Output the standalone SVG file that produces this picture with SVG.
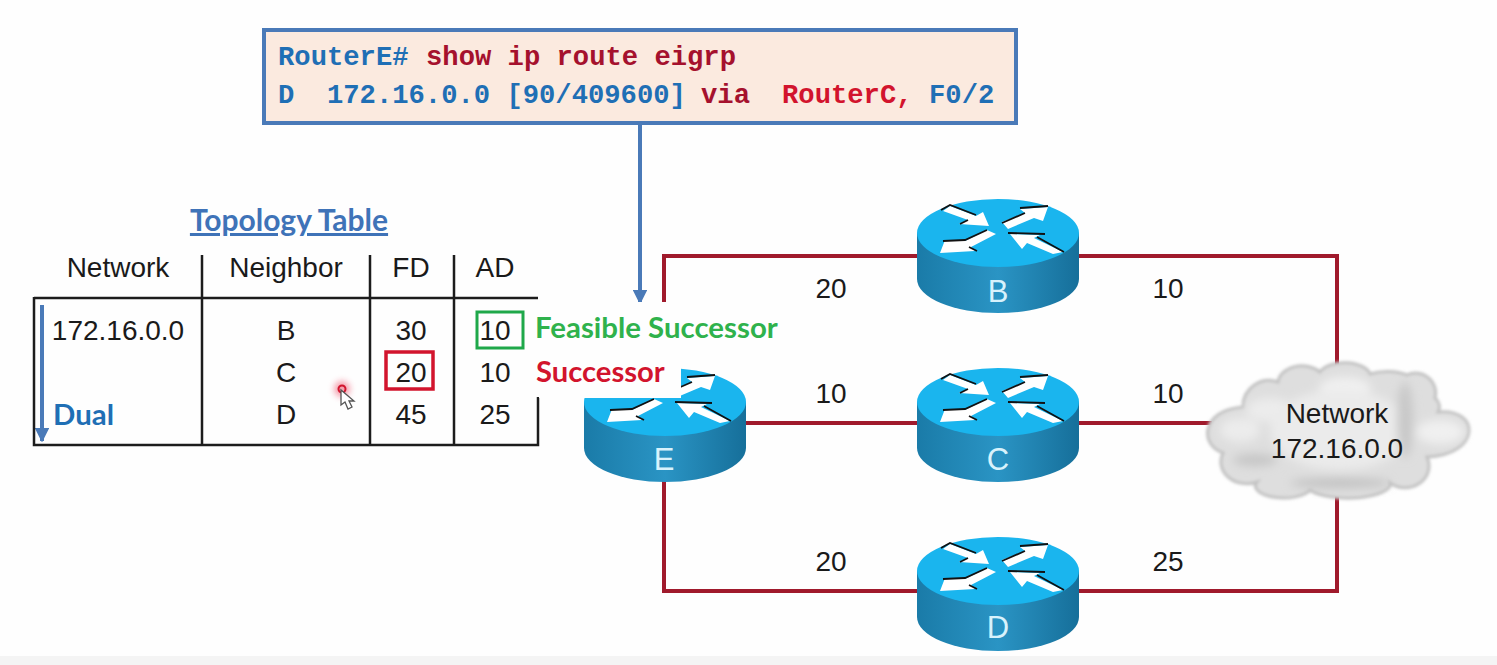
<svg xmlns="http://www.w3.org/2000/svg" width="1497" height="665" viewBox="0 0 1497 665">
<style>
.t{font-family:"Liberation Sans",Arial,sans-serif;font-size:28px;fill:#1a1a1a;text-anchor:middle}
.c{font-family:"Liberation Mono","Courier New",monospace;font-size:27.2px;font-weight:bold}
.b{fill:#1f6fb5}.r{fill:#a5112d}.v{fill:#d2142d}
.h{font-family:Lato,"Open Sans",sans-serif;font-weight:bold}
.link{fill:none;stroke:#a01a2c;stroke-width:4}
.grid{fill:none;stroke:#1c1c1c;stroke-width:2.5}
.flow{fill:none;stroke:#4a7ab8;stroke-width:4}
.rl{font-family:"Liberation Sans",Arial,sans-serif;font-size:31px;fill:#d8f2fc;text-anchor:middle}
.aw{fill:#fff}.ak{fill:none;stroke:#111;stroke-width:1.8}
</style>
<defs>
<linearGradient id="side" x1="0" x2="1" y1="0" y2="0">
<stop offset="0" stop-color="#1a7ba8"/><stop offset=".5" stop-color="#2a94c4"/><stop offset="1" stop-color="#166f9a"/>
</linearGradient>
<filter id="soft" x="-20%" y="-20%" width="140%" height="140%"><feGaussianBlur stdDeviation="5"/></filter>
<filter id="edge" x="-5%" y="-5%" width="110%" height="110%"><feGaussianBlur stdDeviation="1.6"/></filter>
<filter id="glow" x="-60%" y="-60%" width="220%" height="220%"><feGaussianBlur stdDeviation="3"/></filter>
<marker id="ah" viewBox="0 0 10 10" refX="9" refY="5" markerWidth="3.6" markerHeight="3.6" orient="auto"><path d="M0 0L10 5L0 10Z" fill="#4a7ab8"/></marker>
<g id="body">
<path d="M-81 0V46A81 34 0 0 0 81 46V0Z" fill="url(#side)"/>
<ellipse rx="81" ry="34" fill="#1ab5ee"/>
</g>
<g id="arrows">
<path class="aw" d="M-55-22L-48-27L-22-17L-15-21L-9-7L-39-9L-30-13Z"/>
<path class="ak" d="M-57-23L-48-28L-22-18M-38-9L-30-13"/>
<path class="aw" d="M4-11L27-20L22-24L50-26L45-12L36-15L10-4Z"/>
<path class="ak" d="M4-10L27-20M22-25L50-27"/>
<path class="aw" d="M-11-3L-2 1L-27 14L-23 18L-58 20L-53 7L-33 8Z"/>
<path class="ak" d="M-55 8L-33 7L-11-3M-29 14L-21 18"/>
<path class="aw" d="M12 1L42 2L36 5L65 19L55 21L29 10L24 16Z"/>
<path class="ak" d="M10 0L47 1M39 4L66 19"/>
</g>
</defs>
<rect width="1497" height="665" fill="#fefefe"/>
<rect y="656" width="1497" height="9" fill="#f4f4f4"/>

<g id="connectors">
<path class="link" d="M664 305V256H1337V366"/>
<path class="link" d="M745 423H1212"/>
<path class="link" d="M664 480V591H1337V496"/>
<path class="flow" d="M640 123V303" marker-end="url(#ah)"/>
<path class="flow" d="M42 305V441" marker-end="url(#ah)"/>
</g>

<g id="topology-table">
<text class="h" x="289" y="231" font-size="30" fill="#3f73b8" text-anchor="middle" text-decoration="underline">Topology Table</text>
<path class="grid" d="M34 298H538M34 297V445H538V397M202 255V445M370 255V445M454 255V445"/>
<text class="t" x="118" y="277">Network</text>
<text class="t" x="286" y="277">Neighbor</text>
<text class="t" x="411" y="277">FD</text>
<text class="t" x="495" y="277">AD</text>
<text class="t" x="118" y="340">172.16.0.0</text>
<text class="t" x="286" y="340">B</text>
<text class="t" x="286" y="382">C</text>
<text class="t" x="286" y="424">D</text>
<text class="t" x="411" y="340">30</text>
<text class="t" x="411" y="382">20</text>
<text class="t" x="411" y="424">45</text>
<text class="t" x="495" y="340">10</text>
<text class="t" x="495" y="382">10</text>
<text class="t" x="495" y="424">25</text>
<rect x="477" y="312" width="46" height="36" fill="none" stroke="#1fa84a" stroke-width="3"/>
<rect x="386" y="352" width="47" height="37" fill="none" stroke="#d2142d" stroke-width="3.5"/>
<text class="h b" x="53" y="425" font-size="29.4">Dual</text>
</g>

<g id="router-B"><use href="#body" x="998" y="233"/><use href="#arrows" x="998" y="233"/><text class="rl" x="998" y="302">B</text></g>
<g id="router-C"><use href="#body" x="998" y="402"/><use href="#arrows" x="998" y="402"/><text class="rl" x="998" y="470">C</text></g>
<g id="router-D"><use href="#body" x="998" y="571"/><use href="#arrows" x="998" y="571"/><text class="rl" x="998" y="638">D</text></g>
<g id="router-E"><use href="#body" x="665" y="402"/><use href="#arrows" x="665" y="402"/><text class="rl" x="664" y="470">E</text>
<rect x="539" y="302" width="142" height="96" fill="#fefefe"/></g>

<g id="route-labels">
<text class="h" x="535" y="338" font-size="29.4" fill="#2fb24c">Feasible Successor</text>
<text class="h v" x="536" y="382" font-size="29.2">Successor</text>
<text class="t" x="831" y="298">20</text>
<text class="t" x="1168" y="298">10</text>
<text class="t" x="831" y="403">10</text>
<text class="t" x="1168" y="403">10</text>
<text class="t" x="831" y="571">20</text>
<text class="t" x="1168" y="571">25</text>
</g>

<g id="network-cloud">
<path filter="url(#edge)" fill="#dedede" stroke="#c2c2c2" stroke-width="3" d="M1223 453C1199 445 1201 410 1243 407A26 26 0 0 1 1278 382A24 18 0 0 1 1320 372A26 14 0 0 1 1370 374A30 14 0 0 1 1407 375A20 20 0 0 1 1435 398A20 14 0 0 1 1438 412C1481 408 1481 455 1427 457A24 22 0 0 1 1390 483A42 14 0 0 1 1310 490A28 12 0 0 1 1257 482A26 22 0 0 1 1223 453Z"/>
<g filter="url(#soft)">
<ellipse cx="1345" cy="388" rx="26" ry="11" fill="#f0f0f0"/>
<ellipse cx="1270" cy="410" rx="24" ry="12" fill="#ececec"/>
<ellipse cx="1240" cy="430" rx="20" ry="12" fill="#ececec"/>
<ellipse cx="1440" cy="432" rx="24" ry="12" fill="#f0f0f0"/>
<ellipse cx="1340" cy="430" rx="70" ry="40" fill="#ebebeb"/>
<ellipse cx="1405" cy="420" rx="8" ry="38" fill="#c8c8c8"/>
<ellipse cx="1340" cy="483" rx="50" ry="5" fill="#c2c2c2"/>
<ellipse cx="1255" cy="460" rx="22" ry="6" fill="#c6c6c6"/>
</g>
<text class="t" x="1337" y="423">Network</text>
<text class="t" x="1337" y="458">172.16.0.0</text>
</g>

<g id="cli-box">
<rect x="264" y="30" width="752" height="93" fill="#fbeadf" stroke="#4a7ab8" stroke-width="4"/>
<text class="c b" x="278" y="65">RouterE#</text>
<text class="c r" x="426" y="65">show ip route eigrp</text>
<text class="c b" x="278" y="103" xml:space="preserve">D  172.16.0.0 [90/409600]</text>
<text class="c r" x="701" y="103">via</text>
<text class="c v" x="782" y="103">RouterC,</text>
<text class="c b" x="929" y="103">F0/2</text>
</g>

<g id="cursor">
<circle cx="342" cy="389" r="8" fill="#f06a80" opacity=".65" filter="url(#glow)"/>
<circle cx="342" cy="389" r="3.5" fill="#f4a0ac" stroke="#d2142d" stroke-width="2"/>
<path d="M341 390V405L345 402L348 409L352 407L349 401H354Z" fill="#fff" stroke="#555" stroke-width="1.3"/>
</g>
</svg>
